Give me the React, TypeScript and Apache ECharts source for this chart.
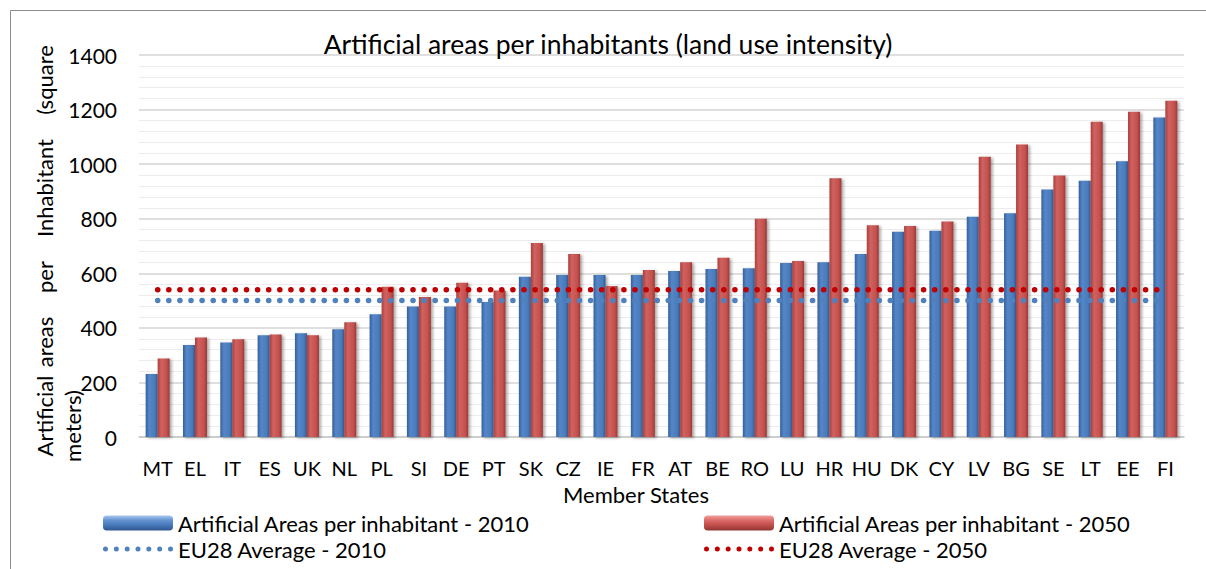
import React, { useEffect, useRef } from "react";
import * as echarts from "echarts";

const categories = ["MT", "EL", "IT", "ES", "UK", "NL", "PL", "SI", "DE", "PT", "SK", "CZ", "IE", "FR", "AT", "BE", "RO", "LU", "HR", "HU", "DK", "CY", "LV", "BG", "SE", "LT", "EE", "FI"];
const areas2010 = [231, 337, 346, 373, 380, 395, 450, 478, 478, 495, 587, 594, 594, 594, 608, 616, 618, 638, 640, 671, 752, 756, 807, 820, 907, 939, 1011, 1171];
const areas2050 = [288, 365, 358, 376, 373, 421, 551, 513, 565, 537, 711, 671, 553, 612, 640, 657, 800, 645, 948, 776, 773, 790, 1027, 1072, 958, 1155, 1192, 1232];
const avg2010 = 500;
const avg2050 = 540;
const yTicks = { min: 0, max: 1400, interval: 200 };

const S_BAR10 = "Artificial Areas per inhabitant - 2010";
const S_BAR50 = "Artificial Areas per inhabitant - 2050";
const S_AVG10 = "EU28 Average - 2010";
const S_AVG50 = "EU28 Average - 2050";

const FONT = "Lato";

function dotsPath(n: number, w: number, r: number): string {
  const step = (w - 2 * r) / (n - 1);
  let d = "path://";
  for (let i = 0; i < n; i++) {
    const cx = r + i * step;
    d += `M${cx - r},${r}a${r},${r} 0 1,0 ${2 * r},0a${r},${r} 0 1,0 ${-2 * r},0Z`;
  }
  return d;
}

export default function App() {
  const ref = useRef<HTMLDivElement>(null);
  useEffect(() => {
    document.body.style.margin = "0";
    const chart = echarts.init(ref.current!, null, { renderer: "svg" });
    const blue = new echarts.graphic.LinearGradient(0, 0, 1, 0, [
      { offset: 0, color: "#365f9c" },
      { offset: 0.3, color: "#5586c6" },
      { offset: 0.75, color: "#4a7cbd" },
      { offset: 1, color: "#32598f" },
    ]);
    const red = new echarts.graphic.LinearGradient(0, 0, 1, 0, [
      { offset: 0, color: "#a93f3c" },
      { offset: 0.3, color: "#d0625f" },
      { offset: 0.75, color: "#c4514e" },
      { offset: 1, color: "#9a3836" },
    ]);
    const blueLeg = new echarts.graphic.LinearGradient(0, 0, 0, 1, [
      { offset: 0, color: "#a9c8ef" },
      { offset: 0.3, color: "#6795d3" },
      { offset: 0.6, color: "#4a7cbd" },
      { offset: 1, color: "#2f5690" },
    ]);
    const redLeg = new echarts.graphic.LinearGradient(0, 0, 0, 1, [
      { offset: 0, color: "#f2a09e" },
      { offset: 0.3, color: "#dc6e6b" },
      { offset: 0.6, color: "#c4514e" },
      { offset: 1, color: "#8f3533" },
    ]);
    const barShadow = { shadowColor: "rgba(0,0,0,0.35)", shadowBlur: 3, shadowOffsetX: 2, shadowOffsetY: 1 };
    const yWords = [
      { t: "Artificial", y: 416 },
      { t: "areas", y: 342 },
      { t: "per", y: 277 },
      { t: "Inhabitant", y: 188 },
      { t: "(square", y: 80 },
    ];
    const legendBase = {
      itemWidth: 70,
      textStyle: { fontFamily: FONT, fontSize: 22, color: "#000" },
      padding: 0,
    };
    const dots = dotsPath(7, 70, 2.5);
    chart.setOption({
      animation: false,
      backgroundColor: "#fff",
      title: {
        text: "Artificial areas per inhabitants (land use intensity)",
        left: 603,
        top: 25,
        textAlign: "center",
        textStyle: { fontFamily: FONT, fontSize: 26.5, fontWeight: "normal", color: "#000" },
      },
      grid: { left: 139, right: 22, top: 55, bottom: 132 },
      legend: [
        { ...legendBase, itemHeight: 15, data: [S_BAR10], left: 103, top: 512, itemStyle: { color: blueLeg, shadowBlur: 0 } },
        { ...legendBase, itemHeight: 15, data: [S_BAR50], left: 704, top: 512, itemStyle: { color: redLeg, shadowBlur: 0 } },
        { ...legendBase, itemHeight: 5, data: [S_AVG10], left: 103, top: 538, icon: dots },
        { ...legendBase, itemHeight: 5, data: [S_AVG50], left: 704, top: 538, icon: dots },
      ],
      xAxis: {
        type: "category",
        data: categories,
        axisLine: { show: true, lineStyle: { color: "#c8c8c8", width: 1.5 } },
        axisTick: { show: false },
        axisLabel: { fontFamily: FONT, fontSize: 20, color: "#000", margin: 21, interval: 0 },
      },
      yAxis: {
        type: "value",
        min: yTicks.min,
        max: yTicks.max,
        interval: yTicks.interval,
        axisLine: { show: false },
        axisTick: { show: false },
        axisLabel: { fontFamily: FONT, fontSize: 21, color: "#000", margin: 22, formatter: (v: number) => String(v) },
        splitLine: { lineStyle: { color: "#d4d4d4", width: 1.5 } },
        minorTick: { show: false, splitNumber: 5 },
        minorSplitLine: { show: true, lineStyle: { color: "#ececec", width: 1 } },
      },
      graphic: [
        {
          type: "rect",
          silent: true,
          shape: { x: 10.5, y: 10.5, width: 1300, height: 700 },
          style: { fill: "none", stroke: "#8c8c8c", lineWidth: 1 },
        },
        ...yWords.map((w) => ({
          type: "text",
          x: 44,
          y: w.y,
          rotation: Math.PI / 2,
          style: { text: w.t, fontFamily: FONT, fontSize: 22, fill: "#000", align: "center", verticalAlign: "middle" },
        })),
        {
          type: "text",
          x: 72,
          y: 426,
          rotation: Math.PI / 2,
          style: { text: "meters)", fontFamily: FONT, fontSize: 22, fill: "#000", align: "center", verticalAlign: "middle" },
        },
        {
          type: "text",
          x: 636,
          y: 494,
          style: { text: "Member States", fontFamily: FONT, fontSize: 22, fill: "#000", align: "center", verticalAlign: "middle" },
        },
      ],
      series: [
        {
          name: S_BAR10,
          type: "bar",
          data: areas2010,
          barWidth: 12,
          barGap: "0%",
          itemStyle: { color: blue, ...barShadow },
        },
        {
          name: S_BAR50,
          type: "bar",
          data: areas2050,
          barWidth: 12,
          barGap: "0%",
          itemStyle: { color: red, ...barShadow },
        },
        {
          name: S_AVG10,
          type: "line",
          data: categories.map(() => avg2010),
          symbol: "none",
          z: 5,
          itemStyle: { color: "#4f81bd" },
          lineStyle: { color: "#4f81bd", width: 5.5, type: [0.1, 11], cap: "round" },
        },
        {
          name: S_AVG50,
          type: "line",
          data: categories.map(() => avg2050),
          symbol: "none",
          z: 5,
          itemStyle: { color: "#c00000" },
          lineStyle: { color: "#c00000", width: 5.5, type: [0.1, 11], cap: "round" },
        },
      ],
    });
    return () => chart.dispose();
  }, []);
  return <div ref={ref} style={{ width: 1206, height: 569 }} />;
}
